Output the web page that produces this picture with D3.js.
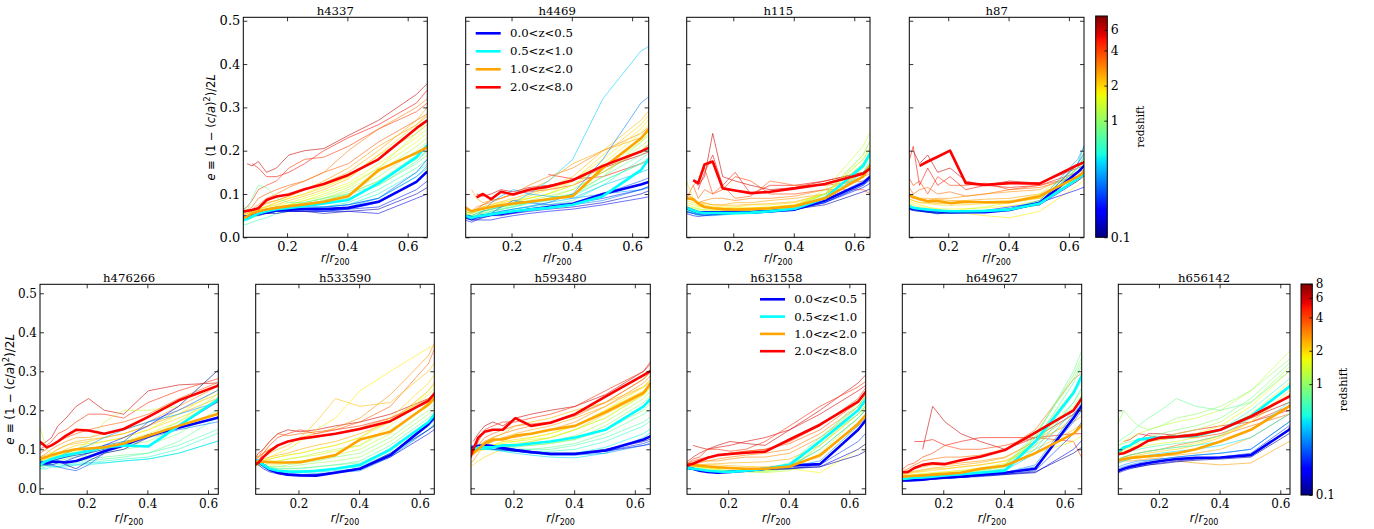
<!DOCTYPE html>
<html>
<head>
<meta charset="utf-8">
<script src="https://cdn.jsdelivr.net/npm/d3@7"></script>
<style>
  body { margin: 0; background: #fff; }
  svg { display: block; }
</style>
</head>
<body>
<svg id="fig" width="1374" height="529"></svg>
<script>
// Radial bins r/r200 shared by every halo profile
const R = [0.045, 0.0675, 0.084, 0.105, 0.132, 0.165, 0.206, 0.258, 0.322, 0.403, 0.503, 0.629, 0.665];

// Redshift bins of the mean profiles (blue, cyan, orange, red)
const BIN_LABELS = ["0.0<z<0.5", "0.5<z<1.0", "1.0<z<2.0", "2.0<z<8.0"];

// ---- h4337 ----
const z_h4337 = [6.0, 5.0, 4.2, 3.5, 3.0, 2.6, 2.2, 1.8, 1.5, 1.2, 1.0, 0.8, 0.65, 0.5, 0.4, 0.3, 0.25, 0.2, 0.15, 0.12,
  2.4, 2.0, 1.6, 1.35, 1.1, 0.9, 0.7, 0.35];
const e_h4337 = [
  [null, 0.17, 0.165, 0.175, 0.15, 0.16, 0.19, 0.20, 0.205, 0.235, 0.27, 0.33, 0.355],
  [null, null, 0.17, 0.16, 0.14, 0.14, 0.15, 0.17, 0.20, 0.23, 0.26, 0.31, 0.34],
  [0.06, 0.07, 0.085, 0.11, 0.12, 0.13, 0.16, 0.18, 0.185, 0.21, 0.25, 0.29, 0.31],
  [0.055, 0.06, 0.07, 0.09, 0.10, 0.11, 0.12, 0.13, 0.15, 0.17, 0.22, 0.27, 0.285],
  [0.05, 0.06, 0.065, 0.075, 0.09, 0.10, 0.115, 0.13, 0.15, 0.20, 0.25, 0.30, 0.32],
  [0.05, 0.055, 0.06, 0.07, 0.08, 0.085, 0.095, 0.11, 0.13, 0.16, 0.21, 0.26, 0.28],
  [0.045, 0.05, 0.06, 0.065, 0.07, 0.075, 0.085, 0.095, 0.11, 0.135, 0.19, 0.24, 0.26],
  [0.05, 0.055, 0.06, 0.065, 0.07, 0.08, 0.09, 0.10, 0.12, 0.14, 0.18, 0.25, 0.27],
  [0.045, 0.05, 0.055, 0.06, 0.065, 0.07, 0.075, 0.085, 0.10, 0.12, 0.16, 0.22, 0.24],
  [0.04, 0.045, 0.05, 0.055, 0.06, 0.065, 0.07, 0.08, 0.09, 0.11, 0.15, 0.21, 0.23],
  [0.035, 0.04, 0.045, 0.05, 0.055, 0.06, 0.07, 0.075, 0.085, 0.10, 0.13, 0.19, 0.21],
  [0.09, 0.06, 0.09, 0.12, 0.115, 0.09, 0.08, 0.08, 0.09, 0.10, 0.12, 0.17, 0.19],
  [0.03, 0.03, 0.035, 0.04, 0.045, 0.055, 0.06, 0.065, 0.07, 0.08, 0.11, 0.16, 0.18],
  [0.04, 0.045, 0.05, 0.055, 0.055, 0.06, 0.065, 0.065, 0.07, 0.075, 0.10, 0.15, 0.17],
  [0.045, 0.05, 0.05, 0.055, 0.06, 0.06, 0.065, 0.065, 0.065, 0.07, 0.09, 0.14, 0.16],
  [0.05, 0.05, 0.055, 0.055, 0.06, 0.065, 0.065, 0.065, 0.06, 0.065, 0.08, 0.13, 0.15],
  [0.05, 0.05, 0.055, 0.06, 0.065, 0.07, 0.07, 0.07, 0.07, 0.075, 0.09, 0.15, 0.18],
  [0.045, 0.045, 0.05, 0.055, 0.055, 0.06, 0.06, 0.06, 0.06, 0.065, 0.07, 0.11, 0.13],
  [0.04, 0.045, 0.05, 0.05, 0.055, 0.06, 0.06, 0.06, 0.06, 0.06, 0.055, 0.09, 0.10],
  [0.045, 0.05, 0.05, 0.055, 0.055, 0.055, 0.06, 0.06, 0.055, 0.06, 0.065, 0.10, 0.115],
  [0.05, 0.055, 0.062, 0.07, 0.078, 0.085, 0.095, 0.11, 0.125, 0.15, 0.20, 0.27, 0.30],
  [0.045, 0.05, 0.058, 0.065, 0.072, 0.08, 0.09, 0.10, 0.115, 0.14, 0.19, 0.26, 0.285],
  [0.04, 0.048, 0.055, 0.06, 0.066, 0.072, 0.08, 0.09, 0.105, 0.125, 0.17, 0.23, 0.25],
  [0.04, 0.045, 0.052, 0.058, 0.063, 0.068, 0.075, 0.085, 0.095, 0.115, 0.16, 0.24, 0.27],
  [0.035, 0.042, 0.048, 0.054, 0.06, 0.066, 0.072, 0.08, 0.09, 0.105, 0.14, 0.20, 0.22],
  [0.035, 0.04, 0.046, 0.052, 0.058, 0.064, 0.07, 0.076, 0.085, 0.10, 0.13, 0.18, 0.20],
  [0.04, 0.045, 0.05, 0.055, 0.06, 0.066, 0.07, 0.075, 0.08, 0.09, 0.12, 0.175, 0.20],
  [0.045, 0.05, 0.055, 0.058, 0.062, 0.065, 0.068, 0.07, 0.07, 0.075, 0.09, 0.14, 0.165]
];
const mean_h4337 = [
  [0.045, 0.048, 0.051, 0.054, 0.058, 0.062, 0.064, 0.065, 0.065, 0.068, 0.082, 0.128, 0.152],
  [0.038, 0.042, 0.048, 0.055, 0.060, 0.065, 0.068, 0.072, 0.078, 0.086, 0.125, 0.185, 0.213],
  [0.042, 0.048, 0.055, 0.060, 0.064, 0.068, 0.072, 0.076, 0.082, 0.095, 0.155, 0.195, 0.208],
  [0.059, 0.061, 0.063, 0.067, 0.086, 0.094, 0.099, 0.111, 0.123, 0.144, 0.180, 0.252, 0.270]
];

// ---- h4469 ----
const z_h4469 = [6, 5, 4, 3, 2.5, 2, 1.6, 1.3, 1.0, 0.9, 0.42, 0.6, 0.3, 0.35, 0.3, 0.25, 0.18, 0.13,
  2.2, 1.8, 1.4, 1.1, 0.8, 0.55, 0.4, 0.2];
const e_h4469 = [
  [null, null, 0.10, 0.095, 0.10, 0.11, 0.105, 0.115, 0.12, 0.13, 0.16, 0.19, 0.20],
  [null, null, null, null, null, null, null, null, 0.145, 0.135, 0.14, 0.17, 0.18],
  [0.06, 0.055, 0.065, 0.075, 0.085, 0.09, 0.10, 0.105, 0.11, 0.12, 0.15, 0.20, 0.22],
  [0.065, 0.06, 0.07, 0.075, 0.08, 0.09, 0.10, 0.12, 0.14, 0.16, 0.20, 0.24, 0.26],
  [null, 0.11, 0.09, 0.08, 0.085, 0.09, 0.10, 0.11, 0.13, 0.17, 0.20, 0.23, 0.25],
  [0.07, 0.06, 0.065, 0.07, 0.075, 0.08, 0.085, 0.09, 0.10, 0.13, 0.19, 0.26, 0.29],
  [0.06, 0.055, 0.06, 0.065, 0.07, 0.075, 0.08, 0.09, 0.10, 0.12, 0.17, 0.24, 0.27],
  [0.055, 0.05, 0.055, 0.06, 0.065, 0.07, 0.075, 0.08, 0.09, 0.11, 0.15, 0.21, 0.23],
  [0.055, 0.05, 0.05, 0.055, 0.06, 0.065, 0.07, 0.08, 0.085, 0.10, 0.14, 0.22, 0.25],
  [0.06, 0.055, 0.06, 0.06, 0.065, 0.07, 0.075, 0.08, 0.09, 0.10, 0.13, 0.17, 0.18],
  [0.05, 0.05, 0.055, 0.06, 0.065, 0.07, 0.08, 0.10, 0.13, 0.18, 0.32, 0.43, 0.445],
  [0.05, 0.045, 0.045, 0.05, 0.055, 0.06, 0.065, 0.07, 0.075, 0.085, 0.12, 0.18, 0.20],
  [0.045, 0.04, 0.045, 0.05, 0.055, 0.06, 0.065, 0.07, 0.08, 0.10, 0.18, 0.31, 0.33],
  [0.05, 0.045, 0.05, 0.06, 0.08, 0.095, 0.11, 0.10, 0.095, 0.09, 0.10, 0.11, 0.115],
  [0.05, 0.045, 0.045, 0.05, 0.05, 0.055, 0.06, 0.065, 0.07, 0.075, 0.085, 0.11, 0.12],
  [0.045, 0.04, 0.045, 0.05, 0.055, 0.07, 0.085, 0.08, 0.075, 0.08, 0.10, 0.13, 0.14],
  [0.04, 0.035, 0.04, 0.04, 0.04, 0.045, 0.05, 0.055, 0.06, 0.065, 0.075, 0.09, 0.095],
  [0.045, 0.04, 0.04, 0.045, 0.05, 0.05, 0.055, 0.06, 0.065, 0.07, 0.08, 0.10, 0.11],
  [0.065, 0.058, 0.064, 0.07, 0.076, 0.082, 0.09, 0.10, 0.115, 0.14, 0.20, 0.27, 0.30],
  [0.06, 0.055, 0.06, 0.066, 0.072, 0.078, 0.085, 0.095, 0.11, 0.13, 0.18, 0.25, 0.28],
  [0.055, 0.05, 0.055, 0.06, 0.066, 0.072, 0.08, 0.09, 0.10, 0.12, 0.16, 0.22, 0.24],
  [0.05, 0.048, 0.052, 0.058, 0.064, 0.07, 0.076, 0.085, 0.095, 0.11, 0.15, 0.20, 0.22],
  [0.05, 0.046, 0.05, 0.055, 0.06, 0.066, 0.072, 0.08, 0.09, 0.10, 0.14, 0.19, 0.21],
  [0.05, 0.045, 0.048, 0.052, 0.058, 0.064, 0.07, 0.078, 0.085, 0.095, 0.13, 0.17, 0.19],
  [0.048, 0.042, 0.045, 0.05, 0.055, 0.06, 0.065, 0.072, 0.08, 0.09, 0.12, 0.15, 0.16],
  [0.045, 0.04, 0.042, 0.046, 0.05, 0.055, 0.06, 0.065, 0.07, 0.078, 0.09, 0.11, 0.12]
];
const mean_h4469 = [
  [0.05, 0.046, 0.047, 0.05, 0.052, 0.054, 0.058, 0.064, 0.07, 0.077, 0.10, 0.122, 0.13],
  [0.05, 0.045, 0.048, 0.05, 0.053, 0.056, 0.06, 0.064, 0.068, 0.075, 0.095, 0.155, 0.19],
  [0.07, 0.06, 0.063, 0.066, 0.07, 0.074, 0.078, 0.082, 0.088, 0.095, 0.16, 0.228, 0.258],
  [null, null, 0.092, 0.10, 0.088, 0.105, 0.099, 0.11, 0.117, 0.132, 0.165, 0.198, 0.21]
];

// ---- h115 ----
const z_h115 = [6, 5, 4, 3.5, 3, 2.5, 2, 1.6, 1.3, 1.0, 0.9, 0.75, 0.55, 0.4, 0.28, 0.18, 0.12,
  2.3, 1.8, 1.4, 1.15, 0.85, 0.65, 0.33, 0.22];
const e_h115 = [
  [null, 0.13, 0.12, 0.14, 0.24, 0.14, 0.13, 0.12, 0.11, 0.115, 0.13, 0.15, 0.16],
  [null, null, 0.11, 0.15, 0.19, 0.12, 0.15, 0.10, 0.12, 0.12, 0.13, 0.15, 0.16],
  [null, 0.12, 0.13, 0.16, 0.10, 0.11, 0.14, 0.13, 0.10, 0.10, 0.11, 0.11, 0.095],
  [0.09, 0.12, 0.09, 0.11, 0.10, 0.12, 0.09, 0.095, 0.13, 0.12, 0.12, 0.13, 0.14],
  [0.10, 0.09, 0.08, 0.085, 0.09, 0.09, 0.085, 0.09, 0.09, 0.095, 0.11, 0.14, 0.15],
  [0.09, 0.085, 0.08, 0.08, 0.075, 0.075, 0.08, 0.08, 0.085, 0.09, 0.10, 0.14, 0.16],
  [0.13, 0.09, 0.075, 0.075, 0.07, 0.07, 0.07, 0.075, 0.075, 0.08, 0.10, 0.15, 0.18],
  [0.08, 0.075, 0.07, 0.07, 0.07, 0.068, 0.068, 0.068, 0.07, 0.075, 0.10, 0.18, 0.22],
  [0.07, 0.068, 0.065, 0.063, 0.062, 0.06, 0.06, 0.062, 0.065, 0.07, 0.11, 0.21, 0.26],
  [0.065, 0.06, 0.058, 0.057, 0.056, 0.055, 0.056, 0.058, 0.062, 0.07, 0.10, 0.19, 0.24],
  [0.07, 0.062, 0.058, 0.055, 0.055, 0.056, 0.058, 0.06, 0.064, 0.07, 0.095, 0.16, 0.20],
  [0.06, 0.055, 0.052, 0.052, 0.053, 0.054, 0.055, 0.056, 0.058, 0.065, 0.09, 0.17, 0.21],
  [0.06, 0.055, 0.05, 0.05, 0.052, 0.052, 0.053, 0.055, 0.058, 0.062, 0.085, 0.15, 0.19],
  [0.065, 0.06, 0.058, 0.055, 0.055, 0.056, 0.058, 0.06, 0.062, 0.066, 0.09, 0.14, 0.17],
  [0.06, 0.055, 0.052, 0.05, 0.05, 0.052, 0.055, 0.055, 0.058, 0.063, 0.08, 0.12, 0.14],
  [0.055, 0.05, 0.048, 0.05, 0.052, 0.054, 0.056, 0.058, 0.06, 0.065, 0.08, 0.115, 0.13],
  [0.065, 0.06, 0.058, 0.058, 0.058, 0.06, 0.06, 0.06, 0.062, 0.065, 0.075, 0.105, 0.115],
  [0.095, 0.09, 0.08, 0.078, 0.075, 0.074, 0.074, 0.076, 0.078, 0.082, 0.10, 0.15, 0.18],
  [0.085, 0.08, 0.072, 0.07, 0.068, 0.067, 0.067, 0.068, 0.07, 0.075, 0.10, 0.17, 0.21],
  [0.075, 0.07, 0.066, 0.064, 0.063, 0.062, 0.062, 0.063, 0.066, 0.072, 0.10, 0.19, 0.24],
  [0.07, 0.065, 0.062, 0.06, 0.059, 0.058, 0.058, 0.06, 0.064, 0.07, 0.10, 0.18, 0.22],
  [0.065, 0.06, 0.056, 0.054, 0.054, 0.054, 0.055, 0.057, 0.06, 0.067, 0.09, 0.16, 0.20],
  [0.062, 0.058, 0.054, 0.053, 0.053, 0.054, 0.055, 0.056, 0.06, 0.066, 0.088, 0.15, 0.18],
  [0.06, 0.057, 0.055, 0.054, 0.054, 0.055, 0.057, 0.058, 0.06, 0.065, 0.085, 0.13, 0.15],
  [0.058, 0.055, 0.053, 0.052, 0.053, 0.055, 0.057, 0.058, 0.06, 0.064, 0.08, 0.12, 0.14]
];
const mean_h115 = [
  [0.068, 0.062, 0.058, 0.058, 0.058, 0.058, 0.059, 0.058, 0.06, 0.064, 0.085, 0.125, 0.147],
  [0.068, 0.062, 0.058, 0.056, 0.056, 0.056, 0.056, 0.057, 0.06, 0.066, 0.09, 0.165, 0.21],
  [0.09, 0.088, 0.078, 0.07, 0.067, 0.065, 0.064, 0.065, 0.067, 0.072, 0.09, 0.14, 0.18],
  [null, 0.132, 0.125, 0.168, 0.175, 0.113, 0.108, 0.102, 0.105, 0.113, 0.123, 0.147, 0.165]
];

// ---- h87 ----
const z_h87 = [6, 5, 4, 3.3, 2.7, 2.2, 1.8, 1.5, 1.2, 0.95, 0.7, 0.5, 0.35, 0.25, 0.17, 0.12,
  2.5, 2.0, 1.6, 1.3, 1.05, 0.8, 0.6, 0.42];
const e_h87 = [
  [null, null, 0.20, 0.17, 0.19, 0.15, 0.16, 0.13, 0.12, 0.13, 0.125, 0.16, 0.17],
  [null, 0.17, 0.21, 0.12, 0.16, 0.12, 0.14, 0.11, 0.12, 0.115, 0.12, 0.15, 0.16],
  [null, 0.14, 0.12, 0.13, 0.10, 0.14, 0.12, 0.12, 0.125, 0.11, 0.12, 0.14, 0.15],
  [0.11, 0.12, 0.10, 0.11, 0.115, 0.10, 0.105, 0.095, 0.10, 0.11, 0.115, 0.14, 0.155],
  [0.10, 0.095, 0.09, 0.09, 0.085, 0.09, 0.09, 0.095, 0.10, 0.105, 0.11, 0.15, 0.16],
  [0.09, 0.09, 0.085, 0.08, 0.08, 0.078, 0.078, 0.08, 0.082, 0.085, 0.09, 0.13, 0.15],
  [0.09, 0.085, 0.08, 0.075, 0.07, 0.065, 0.06, 0.055, 0.05, 0.045, 0.06, 0.12, 0.14],
  [0.08, 0.075, 0.07, 0.065, 0.06, 0.06, 0.06, 0.065, 0.07, 0.08, 0.10, 0.16, 0.19],
  [0.09, 0.08, 0.07, 0.065, 0.062, 0.06, 0.058, 0.058, 0.06, 0.065, 0.085, 0.17, 0.22],
  [0.085, 0.075, 0.068, 0.062, 0.058, 0.055, 0.055, 0.056, 0.058, 0.062, 0.08, 0.15, 0.18],
  [0.075, 0.07, 0.065, 0.062, 0.06, 0.058, 0.058, 0.058, 0.06, 0.064, 0.075, 0.14, 0.16],
  [0.08, 0.075, 0.07, 0.068, 0.065, 0.062, 0.06, 0.06, 0.062, 0.066, 0.08, 0.16, 0.20],
  [0.075, 0.07, 0.066, 0.062, 0.06, 0.058, 0.058, 0.058, 0.06, 0.066, 0.085, 0.18, 0.23],
  [0.07, 0.066, 0.062, 0.06, 0.058, 0.056, 0.056, 0.058, 0.06, 0.065, 0.08, 0.17, 0.21],
  [0.072, 0.068, 0.064, 0.062, 0.058, 0.054, 0.058, 0.06, 0.062, 0.07, 0.08, 0.11, 0.12],
  [0.07, 0.065, 0.062, 0.06, 0.058, 0.056, 0.056, 0.057, 0.06, 0.065, 0.075, 0.13, 0.15],
  [0.10, 0.10, 0.095, 0.09, 0.09, 0.088, 0.085, 0.085, 0.088, 0.09, 0.10, 0.14, 0.155],
  [0.09, 0.088, 0.085, 0.08, 0.078, 0.075, 0.074, 0.075, 0.078, 0.08, 0.09, 0.14, 0.16],
  [0.085, 0.08, 0.075, 0.07, 0.068, 0.066, 0.065, 0.066, 0.068, 0.072, 0.085, 0.15, 0.18],
  [0.08, 0.075, 0.07, 0.066, 0.063, 0.06, 0.06, 0.06, 0.062, 0.066, 0.08, 0.16, 0.20],
  [0.08, 0.072, 0.067, 0.063, 0.06, 0.058, 0.057, 0.057, 0.059, 0.063, 0.078, 0.15, 0.19],
  [0.078, 0.072, 0.066, 0.062, 0.06, 0.058, 0.057, 0.057, 0.058, 0.062, 0.075, 0.14, 0.17],
  [0.076, 0.07, 0.065, 0.062, 0.06, 0.058, 0.058, 0.058, 0.06, 0.064, 0.078, 0.16, 0.21],
  [0.074, 0.068, 0.064, 0.061, 0.059, 0.057, 0.057, 0.057, 0.059, 0.064, 0.08, 0.17, 0.24]
];
const mean_h87 = [
  [0.072, 0.068, 0.066, 0.064, 0.062, 0.06, 0.058, 0.058, 0.058, 0.063, 0.08, 0.15, 0.175],
  [0.075, 0.072, 0.068, 0.066, 0.064, 0.062, 0.06, 0.06, 0.061, 0.064, 0.078, 0.135, 0.155],
  [0.102, 0.098, 0.093, 0.088, 0.083, 0.084, 0.079, 0.082, 0.081, 0.081, 0.095, 0.14, 0.158],
  [null, null, null, 0.165, 0.175, 0.186, 0.20, 0.125, 0.121, 0.125, 0.124, 0.167, 0.177]
];

// ---- h476266 ----
const z_h476266 = [6, 4.5, 3.5, 2.8, 2.2, 1.7, 1.3, 1.0, 0.8, 0.6, 0.45, 0.35, 0.3, 0.25, 0.17, 0.12,
  2.5, 2.0, 1.5, 1.15, 0.9, 0.7, 0.55, 0.2];
const e_h476266 = [
  [0.11, 0.12, 0.13, 0.16, 0.18, 0.21, 0.23, 0.20, 0.19, 0.25, 0.265, 0.27, 0.27],
  [0.10, 0.11, 0.12, 0.14, 0.15, 0.17, 0.19, 0.19, 0.18, 0.22, 0.25, 0.28, 0.29],
  [0.09, 0.10, 0.11, 0.12, 0.13, 0.14, 0.15, 0.16, 0.17, 0.19, 0.23, 0.27, 0.30],
  [0.08, 0.09, 0.10, 0.11, 0.12, 0.13, 0.13, 0.14, 0.15, 0.17, 0.21, 0.26, 0.28],
  [0.07, 0.08, 0.09, 0.10, 0.11, 0.115, 0.12, 0.13, 0.14, 0.16, 0.20, 0.24, 0.27],
  [0.07, 0.075, 0.08, 0.085, 0.09, 0.10, 0.11, 0.12, 0.13, 0.15, 0.19, 0.25, 0.29],
  [0.16, 0.10, 0.09, 0.09, 0.095, 0.10, 0.12, 0.17, 0.20, 0.20, 0.21, 0.30, 0.34],
  [0.06, 0.065, 0.07, 0.075, 0.08, 0.085, 0.09, 0.10, 0.11, 0.12, 0.16, 0.23, 0.25],
  [0.055, 0.06, 0.065, 0.065, 0.07, 0.07, 0.075, 0.08, 0.085, 0.09, 0.12, 0.18, 0.21],
  [0.05, 0.055, 0.06, 0.06, 0.06, 0.065, 0.065, 0.07, 0.075, 0.08, 0.10, 0.14, 0.16],
  [0.06, 0.06, 0.055, 0.055, 0.06, 0.06, 0.065, 0.065, 0.07, 0.075, 0.09, 0.12, 0.13],
  [0.07, 0.07, 0.075, 0.08, 0.09, 0.10, 0.11, 0.13, 0.15, 0.17, 0.19, 0.22, 0.23],
  [0.065, 0.07, 0.07, 0.075, 0.08, 0.09, 0.10, 0.11, 0.12, 0.13, 0.15, 0.17, 0.18],
  [0.07, 0.065, 0.06, 0.055, 0.05, 0.045, 0.06, 0.09, 0.12, 0.17, 0.20, 0.25, 0.27],
  [0.065, 0.06, 0.06, 0.065, 0.07, 0.08, 0.09, 0.11, 0.13, 0.16, 0.21, 0.30, 0.32],
  [0.06, 0.06, 0.065, 0.07, 0.06, 0.05, 0.07, 0.09, 0.10, 0.13, 0.16, 0.19, 0.20],
  [0.08, 0.085, 0.09, 0.10, 0.11, 0.12, 0.125, 0.13, 0.14, 0.16, 0.19, 0.23, 0.25],
  [0.075, 0.08, 0.085, 0.09, 0.10, 0.11, 0.115, 0.12, 0.13, 0.15, 0.18, 0.22, 0.24],
  [0.07, 0.075, 0.08, 0.085, 0.09, 0.095, 0.10, 0.11, 0.12, 0.14, 0.17, 0.22, 0.25],
  [0.065, 0.07, 0.07, 0.075, 0.08, 0.085, 0.09, 0.10, 0.11, 0.13, 0.17, 0.24, 0.27],
  [0.06, 0.065, 0.065, 0.07, 0.075, 0.08, 0.085, 0.09, 0.10, 0.11, 0.14, 0.20, 0.22],
  [0.055, 0.06, 0.06, 0.065, 0.065, 0.07, 0.07, 0.075, 0.08, 0.09, 0.11, 0.15, 0.17],
  [0.05, 0.05, 0.055, 0.055, 0.055, 0.06, 0.06, 0.065, 0.07, 0.075, 0.09, 0.12, 0.14],
  [0.065, 0.065, 0.07, 0.075, 0.08, 0.085, 0.09, 0.10, 0.11, 0.13, 0.16, 0.22, 0.25]
];
const mean_h476266 = [
  [0.065, 0.065, 0.068, 0.068, 0.066, 0.07, 0.08, 0.095, 0.11, 0.135, 0.155, 0.18, 0.195],
  [0.06, 0.07, 0.075, 0.08, 0.085, 0.09, 0.095, 0.105, 0.11, 0.107, 0.16, 0.225, 0.258],
  [0.075, 0.08, 0.085, 0.09, 0.095, 0.10, 0.102, 0.105, 0.115, 0.135, 0.16, 0.19, 0.212],
  [0.12, 0.105, 0.11, 0.12, 0.135, 0.15, 0.148, 0.14, 0.152, 0.183, 0.225, 0.262, 0.278]
];

// ---- h533590 ----
const z_h533590 = [6, 4.5, 3.5, 2.8, 2.2, 1.8, 1.5, 1.2, 0.95, 0.75, 0.6, 0.45, 0.32, 0.22, 0.15, 0.11,
  3.0, 2.4, 2.0, 1.6, 1.3, 1.05, 0.85, 0.55];
const e_h533590 = [
  [0.06, 0.09, 0.10, 0.12, 0.14, 0.15, 0.145, 0.15, 0.16, 0.17, 0.19, 0.23, 0.25],
  [0.05, 0.07, 0.09, 0.11, 0.13, 0.14, 0.15, 0.14, 0.15, 0.16, 0.18, 0.22, 0.24],
  [0.06, 0.08, 0.10, 0.12, 0.14, 0.135, 0.14, 0.145, 0.15, 0.17, 0.21, 0.32, 0.39],
  [0.09, 0.08, 0.09, 0.10, 0.11, 0.12, 0.13, 0.14, 0.155, 0.18, 0.24, 0.34, 0.40],
  [0.06, 0.07, 0.08, 0.09, 0.10, 0.11, 0.13, 0.17, 0.23, 0.21, 0.22, 0.30, 0.34],
  [0.055, 0.06, 0.07, 0.08, 0.09, 0.10, 0.12, 0.15, 0.18, 0.25, 0.30, 0.36, 0.37],
  [0.06, 0.065, 0.07, 0.075, 0.08, 0.085, 0.09, 0.10, 0.11, 0.13, 0.17, 0.24, 0.27],
  [0.06, 0.06, 0.06, 0.065, 0.07, 0.075, 0.08, 0.09, 0.10, 0.11, 0.15, 0.21, 0.24],
  [0.065, 0.06, 0.055, 0.055, 0.055, 0.06, 0.065, 0.07, 0.08, 0.09, 0.13, 0.20, 0.23],
  [0.07, 0.065, 0.06, 0.05, 0.05, 0.05, 0.05, 0.055, 0.06, 0.07, 0.11, 0.18, 0.21],
  [0.07, 0.068, 0.058, 0.05, 0.045, 0.045, 0.045, 0.045, 0.05, 0.055, 0.09, 0.16, 0.19],
  [0.075, 0.07, 0.06, 0.05, 0.045, 0.04, 0.04, 0.042, 0.045, 0.05, 0.085, 0.15, 0.18],
  [0.07, 0.065, 0.055, 0.045, 0.04, 0.038, 0.035, 0.038, 0.04, 0.045, 0.08, 0.15, 0.17],
  [0.07, 0.065, 0.055, 0.045, 0.04, 0.035, 0.033, 0.035, 0.04, 0.05, 0.085, 0.16, 0.19],
  [0.065, 0.06, 0.05, 0.042, 0.037, 0.033, 0.032, 0.033, 0.04, 0.05, 0.08, 0.14, 0.16],
  [0.07, 0.068, 0.06, 0.05, 0.042, 0.036, 0.034, 0.035, 0.042, 0.052, 0.09, 0.15, 0.17],
  [0.07, 0.08, 0.09, 0.10, 0.11, 0.12, 0.125, 0.13, 0.14, 0.155, 0.18, 0.23, 0.26],
  [0.065, 0.07, 0.075, 0.08, 0.085, 0.09, 0.10, 0.11, 0.12, 0.14, 0.17, 0.25, 0.29],
  [0.06, 0.065, 0.07, 0.075, 0.08, 0.085, 0.09, 0.10, 0.11, 0.13, 0.18, 0.27, 0.31],
  [0.06, 0.06, 0.065, 0.07, 0.07, 0.075, 0.08, 0.085, 0.095, 0.11, 0.16, 0.25, 0.28],
  [0.065, 0.06, 0.06, 0.06, 0.06, 0.065, 0.07, 0.075, 0.085, 0.10, 0.14, 0.22, 0.25],
  [0.065, 0.06, 0.058, 0.055, 0.055, 0.055, 0.06, 0.065, 0.07, 0.08, 0.12, 0.19, 0.22],
  [0.07, 0.065, 0.06, 0.055, 0.05, 0.05, 0.052, 0.055, 0.06, 0.065, 0.10, 0.17, 0.20],
  [0.07, 0.066, 0.058, 0.05, 0.046, 0.044, 0.044, 0.046, 0.05, 0.058, 0.095, 0.17, 0.20]
];
const mean_h533590 = [
  [0.072, 0.07, 0.06, 0.048, 0.04, 0.035, 0.033, 0.032, 0.04, 0.05, 0.085, 0.165, 0.20],
  [0.075, 0.07, 0.06, 0.05, 0.045, 0.043, 0.042, 0.045, 0.05, 0.06, 0.10, 0.17, 0.205],
  [0.07, 0.068, 0.068, 0.067, 0.066, 0.066, 0.067, 0.075, 0.085, 0.125, 0.145, 0.215, 0.245],
  [0.055, 0.065, 0.08, 0.095, 0.11, 0.12, 0.127, 0.133, 0.14, 0.152, 0.172, 0.225, 0.258]
];

// ---- h593480 ----
const z_h593480 = [6, 4.5, 3.5, 2.8, 2.2, 2.0, 1.7, 1.3, 1.0, 0.8, 0.6, 0.45, 0.33, 0.23, 0.16, 0.11,
  3.0, 2.4, 1.9, 1.5, 1.15, 0.9, 0.7, 0.5];
const e_h593480 = [
  [null, 0.12, 0.14, 0.16, 0.17, 0.16, 0.18, 0.19, 0.20, 0.21, 0.24, 0.30, 0.33],
  [0.07, 0.09, 0.12, 0.15, 0.16, 0.17, 0.17, 0.18, 0.19, 0.21, 0.25, 0.30, 0.34],
  [0.08, 0.09, 0.11, 0.13, 0.14, 0.15, 0.16, 0.165, 0.17, 0.19, 0.22, 0.28, 0.31],
  [0.06, 0.07, 0.09, 0.11, 0.12, 0.13, 0.13, 0.14, 0.15, 0.17, 0.21, 0.27, 0.30],
  [0.09, 0.10, 0.11, 0.12, 0.13, 0.14, 0.16, 0.17, 0.18, 0.20, 0.22, 0.26, 0.28],
  [0.05, 0.06, 0.07, 0.08, 0.09, 0.10, 0.11, 0.12, 0.13, 0.15, 0.19, 0.24, 0.27],
  [0.08, 0.09, 0.10, 0.11, 0.11, 0.12, 0.12, 0.13, 0.14, 0.16, 0.20, 0.26, 0.29],
  [0.09, 0.095, 0.10, 0.105, 0.11, 0.11, 0.115, 0.12, 0.13, 0.15, 0.18, 0.24, 0.27],
  [0.10, 0.10, 0.105, 0.105, 0.105, 0.105, 0.11, 0.11, 0.115, 0.125, 0.16, 0.22, 0.25],
  [0.095, 0.10, 0.10, 0.10, 0.10, 0.10, 0.10, 0.10, 0.105, 0.115, 0.14, 0.19, 0.21],
  [0.10, 0.10, 0.105, 0.10, 0.10, 0.095, 0.095, 0.095, 0.095, 0.10, 0.12, 0.16, 0.18],
  [0.095, 0.10, 0.10, 0.10, 0.098, 0.095, 0.09, 0.085, 0.08, 0.078, 0.09, 0.13, 0.15],
  [0.10, 0.105, 0.11, 0.11, 0.105, 0.10, 0.095, 0.09, 0.085, 0.085, 0.09, 0.11, 0.12],
  [0.105, 0.11, 0.112, 0.112, 0.11, 0.105, 0.10, 0.095, 0.09, 0.09, 0.095, 0.115, 0.125],
  [0.10, 0.10, 0.105, 0.105, 0.10, 0.098, 0.095, 0.09, 0.088, 0.088, 0.095, 0.11, 0.115],
  [0.10, 0.105, 0.108, 0.108, 0.105, 0.10, 0.095, 0.092, 0.09, 0.09, 0.10, 0.12, 0.13],
  [0.07, 0.085, 0.10, 0.12, 0.13, 0.14, 0.15, 0.16, 0.17, 0.185, 0.22, 0.28, 0.31],
  [0.08, 0.09, 0.10, 0.11, 0.12, 0.13, 0.14, 0.15, 0.16, 0.18, 0.21, 0.26, 0.29],
  [0.085, 0.09, 0.095, 0.10, 0.11, 0.12, 0.125, 0.13, 0.14, 0.16, 0.20, 0.25, 0.28],
  [0.09, 0.095, 0.10, 0.105, 0.11, 0.115, 0.12, 0.125, 0.13, 0.15, 0.18, 0.24, 0.27],
  [0.095, 0.10, 0.10, 0.105, 0.105, 0.11, 0.11, 0.115, 0.12, 0.135, 0.17, 0.23, 0.26],
  [0.10, 0.10, 0.10, 0.10, 0.105, 0.105, 0.105, 0.11, 0.115, 0.125, 0.15, 0.20, 0.23],
  [0.10, 0.10, 0.10, 0.10, 0.10, 0.10, 0.10, 0.10, 0.10, 0.11, 0.13, 0.17, 0.19],
  [0.10, 0.10, 0.10, 0.10, 0.10, 0.098, 0.095, 0.092, 0.09, 0.09, 0.105, 0.14, 0.16]
];
const mean_h593480 = [
  [0.10, 0.105, 0.108, 0.11, 0.108, 0.103, 0.098, 0.093, 0.088, 0.088, 0.097, 0.125, 0.138],
  [0.09, 0.10, 0.105, 0.105, 0.105, 0.11, 0.11, 0.115, 0.12, 0.13, 0.15, 0.21, 0.24],
  [0.085, 0.09, 0.10, 0.115, 0.125, 0.125, 0.135, 0.14, 0.15, 0.16, 0.195, 0.245, 0.283],
  [0.055, 0.10, 0.13, 0.145, 0.15, 0.15, 0.18, 0.16, 0.168, 0.19, 0.235, 0.29, 0.307]
];

// ---- h631558 ----
const z_h631558 = [6, 5.5, 4.5, 3.5, 2.8, 2.2, 1.7, 1.3, 1.0, 0.8, 0.6, 0.45, 0.33, 0.23, 0.16, 0.11,
  4.0, 3.0, 2.4, 1.9, 1.5, 1.15, 0.9, 0.7];
const e_h631558 = [
  [0.06, 0.07, 0.08, 0.09, 0.10, 0.11, 0.12, 0.115, 0.11, 0.15, 0.20, 0.27, 0.30],
  [null, null, 0.11, 0.105, 0.10, 0.105, 0.11, 0.12, 0.13, 0.15, 0.19, 0.25, 0.27],
  [0.055, 0.065, 0.075, 0.08, 0.10, 0.10, 0.095, 0.10, 0.12, 0.16, 0.21, 0.26, 0.28],
  [0.05, 0.055, 0.06, 0.07, 0.08, 0.085, 0.09, 0.095, 0.10, 0.115, 0.15, 0.22, 0.26],
  [0.06, 0.06, 0.065, 0.065, 0.07, 0.07, 0.075, 0.08, 0.08, 0.09, 0.13, 0.20, 0.23],
  [0.065, 0.065, 0.065, 0.06, 0.06, 0.06, 0.058, 0.056, 0.055, 0.06, 0.08, 0.17, 0.20],
  [0.06, 0.06, 0.058, 0.055, 0.053, 0.05, 0.05, 0.048, 0.048, 0.05, 0.04, 0.10, 0.12],
  [0.055, 0.055, 0.055, 0.053, 0.05, 0.048, 0.045, 0.043, 0.04, 0.045, 0.09, 0.18, 0.22],
  [0.05, 0.05, 0.05, 0.048, 0.046, 0.045, 0.043, 0.042, 0.042, 0.05, 0.11, 0.20, 0.235],
  [0.05, 0.05, 0.048, 0.047, 0.045, 0.044, 0.044, 0.046, 0.05, 0.065, 0.13, 0.21, 0.25],
  [0.05, 0.05, 0.048, 0.046, 0.044, 0.042, 0.042, 0.045, 0.05, 0.06, 0.12, 0.19, 0.22],
  [0.055, 0.055, 0.05, 0.047, 0.044, 0.042, 0.043, 0.046, 0.05, 0.055, 0.10, 0.18, 0.21],
  [0.055, 0.055, 0.05, 0.045, 0.042, 0.04, 0.042, 0.045, 0.05, 0.055, 0.07, 0.16, 0.19],
  [0.05, 0.05, 0.048, 0.045, 0.042, 0.04, 0.042, 0.045, 0.048, 0.05, 0.06, 0.12, 0.15],
  [0.052, 0.052, 0.05, 0.046, 0.043, 0.041, 0.043, 0.046, 0.05, 0.052, 0.055, 0.10, 0.12],
  [0.05, 0.05, 0.048, 0.045, 0.042, 0.04, 0.042, 0.045, 0.048, 0.05, 0.055, 0.085, 0.10],
  [0.06, 0.065, 0.07, 0.075, 0.08, 0.085, 0.09, 0.095, 0.10, 0.12, 0.16, 0.23, 0.27],
  [0.055, 0.06, 0.065, 0.07, 0.07, 0.075, 0.08, 0.085, 0.09, 0.10, 0.14, 0.21, 0.25],
  [0.06, 0.06, 0.06, 0.06, 0.062, 0.063, 0.065, 0.066, 0.068, 0.075, 0.11, 0.19, 0.22],
  [0.058, 0.058, 0.056, 0.054, 0.052, 0.05, 0.05, 0.05, 0.05, 0.058, 0.10, 0.18, 0.21],
  [0.055, 0.055, 0.053, 0.05, 0.048, 0.046, 0.045, 0.044, 0.044, 0.052, 0.11, 0.19, 0.23],
  [0.052, 0.052, 0.05, 0.048, 0.046, 0.044, 0.043, 0.043, 0.045, 0.055, 0.12, 0.21, 0.25],
  [0.05, 0.05, 0.049, 0.047, 0.045, 0.044, 0.044, 0.045, 0.048, 0.06, 0.125, 0.22, 0.26],
  [0.05, 0.05, 0.048, 0.046, 0.044, 0.043, 0.043, 0.045, 0.05, 0.062, 0.12, 0.20, 0.24]
];
const mean_h631558 = [
  [0.052, 0.053, 0.05, 0.045, 0.042, 0.04, 0.042, 0.045, 0.05, 0.058, 0.062, 0.15, 0.185],
  [0.05, 0.052, 0.05, 0.048, 0.045, 0.043, 0.042, 0.045, 0.05, 0.06, 0.12, 0.20, 0.24],
  [0.06, 0.06, 0.06, 0.058, 0.056, 0.054, 0.052, 0.05, 0.05, 0.056, 0.085, 0.165, 0.197],
  [0.056, 0.06, 0.063, 0.07, 0.078, 0.085, 0.088, 0.091, 0.094, 0.125, 0.163, 0.222, 0.258]
];

// ---- h649627 ----
const z_h649627 = [6, 5, 4, 3.3, 2.7, 2.2, 1.7, 1.3, 1.0, 0.8, 0.6, 0.45, 0.33, 0.23, 0.16, 0.11,
  2.5, 2.0, 1.5, 1.15, 0.9, 0.7, 0.5, 0.28];
const e_h649627 = [
  [null, null, null, null, 0.10, 0.21, 0.17, 0.14, 0.12, 0.10, 0.13, 0.19, 0.22],
  [null, null, null, 0.12, 0.12, 0.125, 0.11, 0.12, 0.13, 0.13, 0.13, 0.14, 0.14],
  [0.04, 0.05, 0.06, 0.065, 0.08, 0.09, 0.11, 0.10, 0.10, 0.11, 0.13, 0.12, 0.065],
  [0.04, 0.045, 0.05, 0.06, 0.07, 0.075, 0.08, 0.08, 0.085, 0.10, 0.15, 0.28, 0.30],
  [0.035, 0.04, 0.045, 0.05, 0.055, 0.06, 0.06, 0.065, 0.07, 0.08, 0.12, 0.17, 0.19],
  [0.03, 0.035, 0.04, 0.042, 0.045, 0.05, 0.05, 0.055, 0.06, 0.07, 0.10, 0.15, 0.17],
  [0.03, 0.03, 0.033, 0.035, 0.038, 0.04, 0.042, 0.045, 0.05, 0.06, 0.09, 0.12, 0.14],
  [0.025, 0.027, 0.03, 0.03, 0.032, 0.035, 0.038, 0.042, 0.048, 0.06, 0.12, 0.22, 0.26],
  [0.025, 0.025, 0.027, 0.028, 0.03, 0.032, 0.035, 0.04, 0.045, 0.06, 0.14, 0.28, 0.34],
  [0.022, 0.022, 0.024, 0.026, 0.028, 0.03, 0.033, 0.036, 0.042, 0.05, 0.13, 0.30, 0.37],
  [0.022, 0.023, 0.025, 0.027, 0.028, 0.03, 0.032, 0.035, 0.04, 0.048, 0.11, 0.24, 0.29],
  [0.02, 0.02, 0.022, 0.024, 0.026, 0.028, 0.03, 0.033, 0.038, 0.045, 0.09, 0.20, 0.25],
  [0.02, 0.02, 0.021, 0.022, 0.024, 0.026, 0.028, 0.03, 0.035, 0.04, 0.06, 0.19, 0.23],
  [0.02, 0.02, 0.02, 0.021, 0.022, 0.024, 0.026, 0.028, 0.032, 0.036, 0.045, 0.14, 0.18],
  [0.018, 0.018, 0.019, 0.02, 0.021, 0.023, 0.025, 0.028, 0.03, 0.035, 0.04, 0.10, 0.13],
  [0.02, 0.02, 0.02, 0.021, 0.022, 0.024, 0.026, 0.028, 0.032, 0.036, 0.042, 0.09, 0.11],
  [0.032, 0.036, 0.04, 0.044, 0.048, 0.052, 0.055, 0.06, 0.066, 0.078, 0.12, 0.19, 0.22],
  [0.03, 0.033, 0.036, 0.04, 0.043, 0.046, 0.05, 0.054, 0.06, 0.07, 0.11, 0.18, 0.21],
  [0.028, 0.03, 0.032, 0.034, 0.036, 0.038, 0.042, 0.046, 0.052, 0.064, 0.12, 0.21, 0.25],
  [0.025, 0.026, 0.028, 0.03, 0.032, 0.034, 0.037, 0.041, 0.047, 0.06, 0.13, 0.25, 0.30],
  [0.023, 0.024, 0.026, 0.027, 0.029, 0.031, 0.034, 0.038, 0.044, 0.055, 0.135, 0.29, 0.35],
  [0.022, 0.023, 0.024, 0.026, 0.028, 0.03, 0.033, 0.036, 0.041, 0.05, 0.12, 0.27, 0.33],
  [0.021, 0.022, 0.023, 0.025, 0.027, 0.029, 0.031, 0.034, 0.039, 0.047, 0.10, 0.22, 0.27],
  [0.02, 0.02, 0.021, 0.022, 0.024, 0.026, 0.028, 0.031, 0.035, 0.04, 0.055, 0.17, 0.21]
];
const mean_h649627 = [
  [0.02, 0.02, 0.02, 0.021, 0.022, 0.025, 0.028, 0.03, 0.035, 0.04, 0.05, 0.18, 0.222],
  [0.024, 0.024, 0.025, 0.027, 0.028, 0.03, 0.033, 0.036, 0.04, 0.045, 0.12, 0.245, 0.303],
  [0.028, 0.03, 0.031, 0.032, 0.033, 0.035, 0.037, 0.04, 0.05, 0.058, 0.09, 0.14, 0.168],
  [0.041, 0.041, 0.042, 0.052, 0.06, 0.064, 0.062, 0.072, 0.081, 0.098, 0.143, 0.20, 0.24]
];

// ---- h656142 ----
const z_h656142 = [6, 5, 4, 3.2, 2.6, 2.1, 1.7, 1.3, 1.0, 0.8, 0.6, 0.45, 0.33, 0.23, 0.16, 0.11,
  2.4, 1.9, 1.5, 1.15, 0.9, 0.7, 0.5, 0.28];
const e_h656142 = [
  [null, 0.09, 0.10, 0.11, 0.12, 0.14, 0.14, 0.135, 0.14, 0.15, 0.18, 0.22, 0.23],
  [null, null, 0.12, 0.125, 0.14, 0.135, 0.13, 0.14, 0.15, 0.16, 0.17, 0.20, 0.21],
  [0.08, 0.085, 0.09, 0.10, 0.11, 0.12, 0.125, 0.13, 0.13, 0.14, 0.17, 0.21, 0.22],
  [0.07, 0.075, 0.08, 0.085, 0.09, 0.095, 0.10, 0.11, 0.12, 0.135, 0.16, 0.19, 0.20],
  [0.06, 0.065, 0.07, 0.07, 0.072, 0.075, 0.078, 0.07, 0.065, 0.06, 0.065, 0.12, 0.13],
  [0.065, 0.07, 0.075, 0.08, 0.085, 0.09, 0.095, 0.10, 0.11, 0.13, 0.17, 0.24, 0.27],
  [0.08, 0.09, 0.10, 0.105, 0.11, 0.12, 0.125, 0.13, 0.14, 0.16, 0.21, 0.30, 0.33],
  [0.10, 0.11, 0.12, 0.13, 0.14, 0.15, 0.16, 0.17, 0.18, 0.20, 0.25, 0.35, 0.39],
  [0.12, 0.17, 0.20, 0.18, 0.16, 0.15, 0.16, 0.18, 0.19, 0.21, 0.25, 0.33, 0.37],
  [0.11, 0.12, 0.13, 0.14, 0.16, 0.18, 0.20, 0.23, 0.21, 0.20, 0.22, 0.30, 0.34],
  [0.09, 0.095, 0.10, 0.11, 0.12, 0.125, 0.13, 0.13, 0.135, 0.15, 0.20, 0.28, 0.32],
  [0.06, 0.065, 0.07, 0.075, 0.08, 0.085, 0.09, 0.095, 0.10, 0.11, 0.13, 0.19, 0.22],
  [0.05, 0.055, 0.06, 0.065, 0.07, 0.072, 0.075, 0.08, 0.085, 0.09, 0.10, 0.17, 0.20],
  [0.04, 0.045, 0.05, 0.055, 0.06, 0.065, 0.07, 0.075, 0.078, 0.08, 0.09, 0.16, 0.19],
  [0.035, 0.04, 0.045, 0.05, 0.055, 0.06, 0.065, 0.07, 0.075, 0.078, 0.085, 0.15, 0.18],
  [0.04, 0.045, 0.05, 0.052, 0.055, 0.06, 0.063, 0.068, 0.072, 0.075, 0.08, 0.14, 0.17],
  [0.065, 0.068, 0.072, 0.075, 0.078, 0.08, 0.083, 0.085, 0.09, 0.10, 0.13, 0.19, 0.21],
  [0.07, 0.075, 0.08, 0.085, 0.09, 0.095, 0.10, 0.105, 0.115, 0.135, 0.17, 0.25, 0.28],
  [0.085, 0.09, 0.095, 0.10, 0.105, 0.11, 0.115, 0.12, 0.13, 0.15, 0.19, 0.27, 0.31],
  [0.095, 0.10, 0.105, 0.11, 0.115, 0.12, 0.13, 0.14, 0.15, 0.17, 0.22, 0.31, 0.35],
  [0.10, 0.11, 0.115, 0.12, 0.125, 0.13, 0.14, 0.15, 0.16, 0.18, 0.23, 0.32, 0.36],
  [0.08, 0.085, 0.09, 0.095, 0.10, 0.105, 0.11, 0.115, 0.12, 0.135, 0.18, 0.26, 0.30],
  [0.07, 0.075, 0.08, 0.085, 0.09, 0.095, 0.10, 0.105, 0.11, 0.12, 0.15, 0.22, 0.25],
  [0.045, 0.05, 0.055, 0.06, 0.065, 0.07, 0.075, 0.08, 0.085, 0.09, 0.10, 0.17, 0.21]
];
const mean_h656142 = [
  [0.04, 0.045, 0.05, 0.055, 0.06, 0.065, 0.07, 0.075, 0.078, 0.079, 0.085, 0.15, 0.192],
  [0.09, 0.095, 0.105, 0.11, 0.125, 0.128, 0.13, 0.132, 0.135, 0.15, 0.185, 0.26, 0.30],
  [0.07, 0.072, 0.075, 0.078, 0.08, 0.082, 0.085, 0.09, 0.10, 0.12, 0.15, 0.21, 0.245],
  [null, 0.088, 0.09, 0.097, 0.107, 0.122, 0.13, 0.132, 0.137, 0.15, 0.184, 0.235, 0.26]
];

// ---------------------------------------------------------------------------
const svg = d3.select("#fig");
const SERIF = "DejaVu Serif, serif";
const SANS = "DejaVu Sans, sans-serif";
const MEAN_COLORS = ["#0000ff", "#00ffff", "#ffa500", "#ff0000"];

// matplotlib "jet" colormap built from its segment tables
const jetR = d3.scaleLinear().domain([0, 0.35, 0.66, 0.89, 1]).range([0, 0, 1, 1, 0.5]).clamp(true);
const jetG = d3.scaleLinear().domain([0, 0.125, 0.375, 0.64, 0.91, 1]).range([0, 0, 1, 1, 0, 0]).clamp(true);
const jetB = d3.scaleLinear().domain([0, 0.11, 0.34, 0.65, 1]).range([0.5, 1, 1, 0, 0]).clamp(true);
const jet = t => d3.rgb(255 * jetR(t), 255 * jetG(t), 255 * jetB(t)).formatHex();

// Two rows of panels, each with its own redshift colorbar
const ROWS = [
  { top: 17.3, height: 220, ydom: [0, 0.508], tickFont: 13, tickPadX: 4, xlabBase: 262,
    ylabX: 215, ylabFont: 11.5, zmax: 7.9, zticks: [0.1, 1, 2, 4, 6],
    cbar: { x: 1095.7, y: 16, w: 11.6, h: 221.3 }, cbFont: 12.5, rsX: 1140, rsFont: 10.5 },
  { top: 284.3, height: 210, ydom: [-0.0154, 0.523], tickFont: 12, tickPadX: 5.5, xlabBase: 522,
    ylabX: 14, ylabFont: 12, zmax: 8, zticks: [0.1, 1, 2, 4, 6, 8],
    cbar: { x: 1301, y: 284, w: 11.3, h: 211 }, cbFont: 12, rsX: 1343, rsFont: 11 }
];

const PANELS = [
  { id: "h4337", row: 0, left: 243.3, width: 184, xlim: [0.055, 0.665], z: z_h4337, e: e_h4337, mean: mean_h4337, ylab: true },
  { id: "h4469", row: 0, left: 465.7, width: 183, xlim: [0.048, 0.655], z: z_h4469, e: e_h4469, mean: mean_h4469,
    legend: { dx: 10, dy: 16, step: 18 } },
  { id: "h115", row: 0, left: 686.7, width: 183.3, xlim: [0.046, 0.652], z: z_h115, e: e_h115, mean: mean_h115 },
  { id: "h87", row: 0, left: 909.3, width: 174.7, xlim: [0.071, 0.65], z: z_h87, e: e_h87, mean: mean_h87 },
  { id: "h476266", row: 1, left: 40, width: 178.3, xlim: [0.046, 0.634], z: z_h476266, e: e_h476266, mean: mean_h476266, ylab: true },
  { id: "h533590", row: 1, left: 255.7, width: 178.6, xlim: [0.059, 0.648], z: z_h533590, e: e_h533590, mean: mean_h533590 },
  { id: "h593480", row: 1, left: 471, width: 179.3, xlim: [0.06, 0.651], z: z_h593480, e: e_h593480, mean: mean_h593480 },
  { id: "h631558", row: 1, left: 687, width: 178.7, xlim: [0.064, 0.654], z: z_h631558, e: e_h631558, mean: mean_h631558,
    legend: { dx: 73, dy: 15, step: 17.3 } },
  { id: "h649627", row: 1, left: 902.3, width: 179.4, xlim: [0.065, 0.656], z: z_h649627, e: e_h649627, mean: mean_h649627 },
  { id: "h656142", row: 1, left: 1118.3, width: 171.7, xlim: [0.066, 0.632], z: z_h656142, e: e_h656142, mean: mean_h656142 }
];

const defs = svg.append("defs");

PANELS.forEach((p, pi) => {
  const row = ROWS[p.row];
  const x = d3.scaleLinear().domain(p.xlim).range([0, p.width]);
  const y = d3.scaleLinear().domain(row.ydom).range([row.height, 0]);
  const zNorm = d3.scaleLog().domain([0.1, row.zmax]).range([0, 1]).clamp(true);

  const g = svg.append("g").attr("transform", `translate(${p.left},${row.top})`);

  defs.append("clipPath").attr("id", "clip" + pi)
    .append("rect").attr("width", p.width).attr("height", row.height);

  const line = d3.line()
    .defined(d => d[1] != null)
    .x(d => x(d[0]))
    .y(d => y(d[1]));

  const plot = g.append("g").attr("clip-path", `url(#clip${pi})`);

  // individual profiles coloured by redshift, earliest (highest z) drawn first
  const profiles = p.e.map((vals, i) => ({ z: p.z[i], pts: vals.map((v, k) => [R[k], v]) }))
    .sort((a, b) => b.z - a.z);
  plot.selectAll("path.thin")
    .data(profiles)
    .join("path")
    .attr("class", "thin")
    .attr("d", d => line(d.pts))
    .attr("fill", "none")
    .attr("stroke", d => jet(zNorm(d.z)))
    .attr("stroke-width", 1)
    .attr("stroke-opacity", 0.58)
    .attr("stroke-linejoin", "round");

  // mean profiles of each redshift bin
  plot.selectAll("path.mean")
    .data(p.mean.map((vals, i) => ({ c: MEAN_COLORS[i], pts: vals.map((v, k) => [R[k], v]) })))
    .join("path")
    .attr("class", "mean")
    .attr("d", d => line(d.pts))
    .attr("fill", "none")
    .attr("stroke", d => d.c)
    .attr("stroke-width", 2.6)
    .attr("stroke-linejoin", "round");

  // axes (ticks pointing inward on all four sides)
  const xt = [0.2, 0.4, 0.6], yt = [0, 0.1, 0.2, 0.3, 0.4, 0.5];
  const axB = g.append("g").attr("transform", `translate(0,${row.height})`)
    .call(d3.axisBottom(x).tickValues(xt).tickSize(-4).tickPadding(row.tickPadX).tickFormat(d3.format(".1f")));
  const axT = g.append("g").call(d3.axisTop(x).tickValues(xt).tickSize(-4).tickFormat(""));
  const axL = g.append("g").call(d3.axisLeft(y).tickValues(yt).tickSize(-4).tickPadding(3)
    .tickFormat(p.ylab ? d3.format(".1f") : ""));
  const axR = g.append("g").attr("transform", `translate(${p.width},0)`)
    .call(d3.axisRight(y).tickValues(yt).tickSize(-4).tickFormat(""));
  [axB, axT, axL, axR].forEach(a => {
    a.select(".domain").remove();
    a.selectAll(".tick line").attr("stroke", "#000").attr("stroke-width", 0.8);
    a.selectAll(".tick text").attr("font-family", SERIF).attr("font-size", row.tickFont).attr("fill", "#000");
  });

  g.append("rect").attr("width", p.width).attr("height", row.height)
    .attr("fill", "none").attr("stroke", "#000").attr("stroke-width", 1);

  // title
  g.append("text").attr("x", p.width / 2).attr("y", -2.6)
    .attr("text-anchor", "middle").attr("font-family", SERIF).attr("font-size", 11.7)
    .text(p.id);

  // x label r/r200
  const xl = svg.append("text").attr("x", p.left + p.width / 2).attr("y", row.xlabBase)
    .attr("text-anchor", "middle").attr("font-family", SANS).attr("font-size", 11.5);
  xl.append("tspan").attr("font-style", "italic").text("r");
  xl.append("tspan").text("/");
  xl.append("tspan").attr("font-style", "italic").text("r");
  xl.append("tspan").attr("font-size", 8).attr("dy", 3).text("200");

  // y label
  if (p.ylab) {
    const cy = row.top + row.height / 2;
    const yl = svg.append("text")
      .attr("transform", `translate(${row.ylabX},${cy}) rotate(-90)`)
      .attr("text-anchor", "middle").attr("font-family", SANS).attr("font-size", row.ylabFont);
    yl.append("tspan").attr("font-style", "italic").text("e");
    yl.append("tspan").text(" \u2261 (1 \u2212 (");
    yl.append("tspan").attr("font-style", "italic").text("c");
    yl.append("tspan").text("/");
    yl.append("tspan").attr("font-style", "italic").text("a");
    yl.append("tspan").text(")");
    yl.append("tspan").attr("font-size", row.ylabFont * 0.7).attr("dy", -5).text("2");
    yl.append("tspan").attr("dy", 5).text(")/2");
    yl.append("tspan").attr("font-style", "italic").text("L");
  }

  // legend
  if (p.legend) {
    const lg = g.append("g").attr("transform", `translate(${p.legend.dx},${p.legend.dy})`);
    BIN_LABELS.forEach((lab, i) => {
      const yy = i * p.legend.step;
      lg.append("line").attr("x1", 0).attr("x2", 25).attr("y1", yy).attr("y2", yy)
        .attr("stroke", MEAN_COLORS[i]).attr("stroke-width", 2.6);
      lg.append("text").attr("x", 34.3).attr("y", yy).attr("dominant-baseline", "central")
        .attr("font-family", SERIF).attr("font-size", 11.7).text(lab);
    });
  }
});

// colorbars
ROWS.forEach((row, ri) => {
  const cb = row.cbar;
  const grad = defs.append("linearGradient").attr("id", "jet" + ri)
    .attr("x1", 0).attr("y1", 1).attr("x2", 0).attr("y2", 0);
  d3.range(0, 1.0001, 1 / 80).forEach(t => {
    grad.append("stop").attr("offset", t).attr("stop-color", jet(t));
  });
  const g = svg.append("g").attr("transform", `translate(${cb.x},${cb.y})`);
  g.append("rect").attr("width", cb.w).attr("height", cb.h).attr("fill", `url(#jet${ri})`);
  const zs = d3.scaleLog().domain([0.1, row.zmax]).range([cb.h, 0]);
  const ax = g.append("g").attr("transform", `translate(${cb.w},0)`)
    .call(d3.axisRight(zs).tickValues(row.zticks).tickSize(-3).tickPadding(3.5).tickFormat(d => String(d)));
  ax.select(".domain").remove();
  ax.selectAll(".tick line").attr("stroke", "#000").attr("stroke-width", 0.8);
  ax.selectAll(".tick text").attr("font-family", SERIF).attr("font-size", row.cbFont).attr("fill", "#000");
  g.append("rect").attr("width", cb.w).attr("height", cb.h)
    .attr("fill", "none").attr("stroke", "#000").attr("stroke-width", 1);
  svg.append("text")
    .attr("transform", `translate(${row.rsX},${cb.y + cb.h / 2}) rotate(-90)`)
    .attr("text-anchor", "middle").attr("dominant-baseline", "central")
    .attr("font-family", SERIF).attr("font-size", row.rsFont).text("redshift");
});
</script>
</body>
</html>
